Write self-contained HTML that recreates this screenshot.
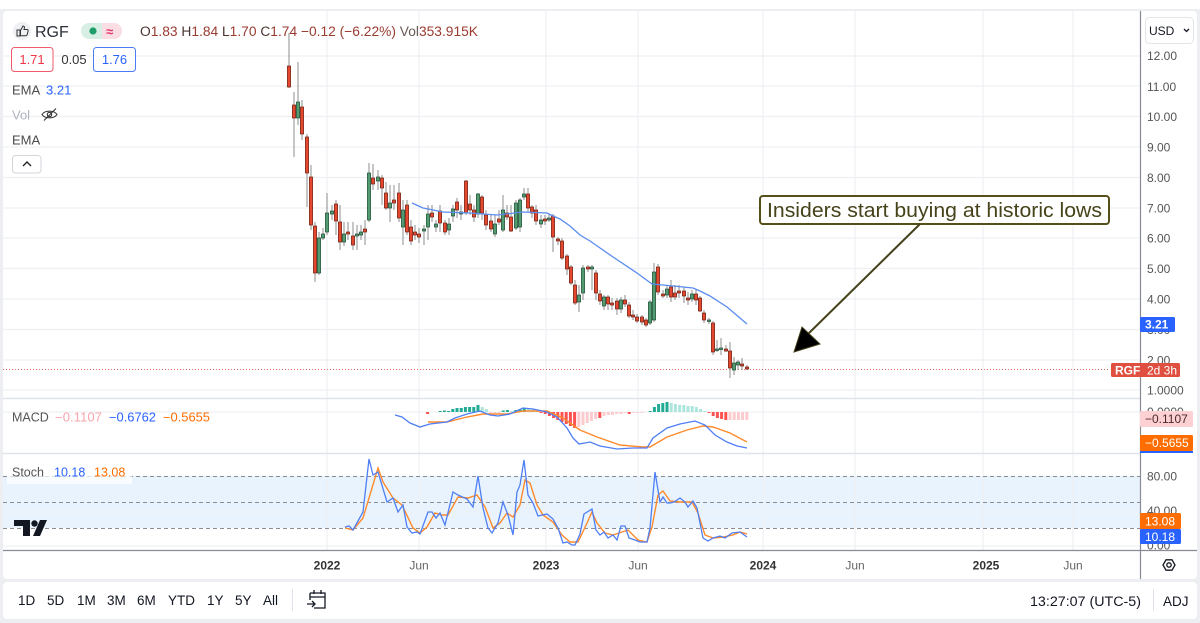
<!DOCTYPE html>
<html><head><meta charset="utf-8"><style>
html,body{margin:0;padding:0;background:#ffffff;}
svg{display:block;font-family:"Liberation Sans",sans-serif;}
</style></head><body>
<svg width="1200" height="623" viewBox="0 0 1200 623" xmlns="http://www.w3.org/2000/svg">
<rect x="0" y="0" width="1200" height="623" fill="#eceef2"/>
<rect x="0" y="0" width="1200" height="9" fill="#ffffff"/>
<rect x="3" y="11" width="1194" height="568" rx="4" fill="#ffffff"/>
<rect x="3" y="582" width="1194" height="37" rx="4" fill="#ffffff"/>

<!-- stoch band -->
<rect x="3" y="476" width="1137" height="52" fill="#e8f3fd"/>

<!-- grid -->
<g stroke="#eef0f4" stroke-width="1.2">
<path d="M3 56H1140M3 86H1140M3 116.5H1140M3 147H1140M3 177.5H1140M3 208H1140M3 238H1140M3 268.5H1140M3 299H1140M3 329.5H1140M3 360H1140M3 390H1140"/>
<path d="M3 412H1140M3 512H1140M3 546H1140"/>
<path d="M327 11V550M419 11V550M546 11V550M638 11V550M763 11V550M855 11V550M983 11V550M1073 11V550"/>
</g>
<!-- pane separators -->
<path d="M3 398.5H1140M3 453.5H1140" stroke="#e0e3eb" stroke-width="1.5"/>
<path d="M3 550.5H1197" stroke="#888b94" stroke-width="1.2"/>
<path d="M1140.5 11V579" stroke="#888b94" stroke-width="1.2"/>

<!-- stoch dashed -->
<g stroke="#8a8d95" stroke-width="1" stroke-dasharray="4 3">
<path d="M3 476.5H1140M3 502.5H1140M3 528.5H1140"/>
</g>

<!-- last price line -->
<path d="M3 369.5H1110" stroke="#e0675a" stroke-width="1" stroke-dasharray="1 2"/>

<!-- wicks -->
<path stroke="#8c8c8c" stroke-width="1" fill="none" d="
M289 33V88M294 92V157M298 62V125M302 100V140M307 134V207M311 165V230M315 222V282M319 232V275M323 228V240M327 193V235
M332 205V220M336 200V235M340 205V250M344 222V246M348 222V240M353 222V250M357 225V250M361 225V240M365 220V245M369 163V222
M373 164V190M378 170V190M382 175V205M386 182V210M390 185V222M394 185V210M399 183V222M403 200V245M407 200V235M411 220V245
M415 225V240M419 228V243M424 225V245M428 205V240M432 205V222M436 220V232M440 205V232M445 220V235M449 218V235M453 205V222
M457 198V218M461 205V220M466 180V215M470 195V215M474 205V222M478 193V218M482 195V220M486 210V230M491 215V232M495 215V237
M499 210V225M503 195V232M507 205V220M511 205V232M516 200V230M520 198V232M524 188V200M528 188V212M532 205V218M536 205V225
M541 215V228M545 215V225M549 214V222M553 214V252M558 237V245M562 238V260M567 254V275M571 265V285M575 280V305M579 285V312
M583 265V300M588 265V272M592 265V290M596 270V300M600 290V305M604 295V310M608 295V310M612 298V310M617 298V315M621 297V313
M625 295V307M629 302V318M633 310V320M637 314V323M642 315V325M646 318V327M650 300V325M654 263V322M658 264V295M663 290V298
M667 285V298M671 280V302M675 285V300M679 285V298M684 287V303M688 292V305M692 290V302M696 290V305M700 296V312M704 310V323
M709 318V324M713 321V355M717 340V352M721 338V355M726 345V352M730 342V378M734 357V375M738 360V370M742 358V370M747 365V370"/>

<!-- red bodies -->
<g fill="#e4492f" stroke="#6e2216" stroke-width="0.7">
<rect x="287.4" y="66" width="3.2" height="21"/>
<rect x="292.4" y="105" width="3.2" height="13"/>
<rect x="300.4" y="107" width="3.2" height="27"/>
<rect x="305.4" y="137" width="3.2" height="36"/>
<rect x="309.4" y="177" width="3.2" height="48"/>
<rect x="313.4" y="226" width="3.2" height="47"/>
<rect x="334.4" y="204" width="3.2" height="17"/>
<rect x="338.4" y="222" width="3.2" height="20"/>
<rect x="346.4" y="232" width="3.2" height="2"/>
<rect x="351.4" y="236" width="3.2" height="9"/>
<rect x="363.4" y="229" width="3.2" height="3"/>
<rect x="371.4" y="178" width="3.2" height="6"/>
<rect x="380.4" y="178" width="3.2" height="10"/>
<rect x="384.4" y="193" width="3.2" height="15"/>
<rect x="392.4" y="200" width="3.2" height="3"/>
<rect x="397.4" y="193" width="3.2" height="25"/>
<rect x="405.4" y="205" width="3.2" height="27"/>
<rect x="409.4" y="227" width="3.2" height="14"/>
<rect x="413.4" y="232" width="3.2" height="3"/>
<rect x="417.4" y="234" width="3.2" height="3"/>
<rect x="430.4" y="213" width="3.2" height="4"/>
<rect x="438.4" y="211" width="3.2" height="12"/>
<rect x="443.4" y="223" width="3.2" height="9"/>
<rect x="455.4" y="202" width="3.2" height="8"/>
<rect x="464.4" y="181" width="3.2" height="32"/>
<rect x="468.4" y="204" width="3.2" height="6"/>
<rect x="472.4" y="210" width="3.2" height="7"/>
<rect x="480.4" y="197" width="3.2" height="16"/>
<rect x="484.4" y="215" width="3.2" height="10"/>
<rect x="489.4" y="221" width="3.2" height="8"/>
<rect x="497.4" y="219" width="3.2" height="3"/>
<rect x="505.4" y="213" width="3.2" height="4"/>
<rect x="509.4" y="217" width="3.2" height="14"/>
<rect x="526.4" y="194" width="3.2" height="14"/>
<rect x="530.4" y="207" width="3.2" height="6"/>
<rect x="534.4" y="210" width="3.2" height="11"/>
<rect x="543.4" y="219" width="3.2" height="2"/>
<rect x="551.4" y="216" width="3.2" height="21"/>
<rect x="556.4" y="239" width="3.2" height="2"/>
<rect x="560.4" y="241" width="3.2" height="17"/>
<rect x="565.4" y="256" width="3.2" height="13"/>
<rect x="569.4" y="267" width="3.2" height="16"/>
<rect x="573.4" y="285" width="3.2" height="18"/>
<rect x="586.4" y="267" width="3.2" height="2"/>
<rect x="594.4" y="273" width="3.2" height="20"/>
<rect x="598.4" y="294" width="3.2" height="7"/>
<rect x="606.4" y="297" width="3.2" height="7"/>
<rect x="610.4" y="303" width="3.2" height="2"/>
<rect x="615.4" y="301" width="3.2" height="8"/>
<rect x="623.4" y="300" width="3.2" height="4"/>
<rect x="627.4" y="305" width="3.2" height="11"/>
<rect x="631.4" y="315" width="3.2" height="2"/>
<rect x="635.4" y="317" width="3.2" height="4"/>
<rect x="640.4" y="317" width="3.2" height="5"/>
<rect x="644.4" y="320" width="3.2" height="5"/>
<rect x="656.4" y="267" width="3.2" height="25"/>
<rect x="661.4" y="294" width="3.2" height="2"/>
<rect x="669.4" y="287" width="3.2" height="10"/>
<rect x="673.4" y="293" width="3.2" height="4"/>
<rect x="677.4" y="291" width="3.2" height="2"/>
<rect x="682.4" y="291" width="3.2" height="5"/>
<rect x="686.4" y="298" width="3.2" height="2"/>
<rect x="694.4" y="294" width="3.2" height="6"/>
<rect x="698.4" y="298" width="3.2" height="13"/>
<rect x="702.4" y="313" width="3.2" height="7"/>
<rect x="711.4" y="323" width="3.2" height="29"/>
<rect x="724.4" y="349" width="3.2" height="2"/>
<rect x="728.4" y="351" width="3.2" height="17"/>
<rect x="740.4" y="364" width="3.2" height="2"/>
<rect x="745.4" y="367" width="3.2" height="2"/>
</g>
<!-- green bodies -->
<g fill="#539c72" stroke="#234f37" stroke-width="0.7">
<rect x="296.4" y="102" width="3.2" height="16"/>
<rect x="317.4" y="238" width="3.2" height="35"/>
<rect x="321.4" y="234" width="3.2" height="4"/>
<rect x="325.4" y="213" width="3.2" height="19"/>
<rect x="330.4" y="211" width="3.2" height="3"/>
<rect x="342.4" y="234" width="3.2" height="8"/>
<rect x="355.4" y="234" width="3.2" height="2"/>
<rect x="359.4" y="232" width="3.2" height="3"/>
<rect x="367.4" y="173" width="3.2" height="47"/>
<rect x="376.4" y="177" width="3.2" height="4"/>
<rect x="388.4" y="203" width="3.2" height="5"/>
<rect x="401.4" y="210" width="3.2" height="17"/>
<rect x="422.4" y="229" width="3.2" height="2"/>
<rect x="426.4" y="214" width="3.2" height="13"/>
<rect x="434.4" y="224" width="3.2" height="3"/>
<rect x="447.4" y="224" width="3.2" height="6"/>
<rect x="451.4" y="209" width="3.2" height="7"/>
<rect x="459.4" y="212" width="3.2" height="2"/>
<rect x="476.4" y="194" width="3.2" height="20"/>
<rect x="493.4" y="224" width="3.2" height="10"/>
<rect x="501.4" y="210" width="3.2" height="20"/>
<rect x="514.4" y="203" width="3.2" height="25"/>
<rect x="518.4" y="200" width="3.2" height="27"/>
<rect x="522.4" y="194" width="3.2" height="3"/>
<rect x="539.4" y="220" width="3.2" height="4"/>
<rect x="547.4" y="218" width="3.2" height="2"/>
<rect x="577.4" y="295" width="3.2" height="7"/>
<rect x="581.4" y="268" width="3.2" height="25"/>
<rect x="590.4" y="267" width="3.2" height="2"/>
<rect x="602.4" y="297" width="3.2" height="9"/>
<rect x="619.4" y="300" width="3.2" height="9"/>
<rect x="648.4" y="302" width="3.2" height="21"/>
<rect x="652.4" y="272" width="3.2" height="48"/>
<rect x="665.4" y="289" width="3.2" height="6"/>
<rect x="690.4" y="294" width="3.2" height="5"/>
<rect x="707.4" y="320" width="3.2" height="1.5"/>
<rect x="715.4" y="349" width="3.2" height="1.5"/>
<rect x="719.4" y="348" width="3.2" height="1.5"/>
<rect x="732.4" y="363" width="3.2" height="7"/>
<rect x="736.4" y="362" width="3.2" height="3"/>
</g>

<!-- EMA -->
<polyline fill="none" stroke="#5b8cf0" stroke-width="1.3" points="412,203 423,208 443,212 470,213 497,215 523,212 547,213 553,216 560,219 570,226 580,235 590,241 613,257 637,273 652,284 663,285 693,288 700,291 710,296 727,307 747,324"/>

<!-- annotation -->
<rect x="760" y="196" width="349" height="28" rx="3" fill="#ffffff" stroke="#55501a" stroke-width="2"/>
<text x="934.5" y="217" text-anchor="middle" font-size="20" fill="#46421a" textLength="335" lengthAdjust="spacingAndGlyphs">Insiders start buying at historic lows</text>
<path d="M920 224L806 336" stroke="#45411a" stroke-width="2"/>
<path d="M794 352L802 327L820 344Z" fill="#000" stroke="#45411a" stroke-width="1"/>

<!-- MACD histogram -->
<g stroke="none">
<rect x="426.1" y="412" width="3" height="2" fill="#ff5252"/>
<rect x="438.7" y="411" width="3" height="1" fill="#22ab94"/>
<rect x="442.9" y="410.5" width="3" height="1.5" fill="#22ab94"/>
<rect x="447.1" y="411" width="3" height="1" fill="#22ab94"/>
<rect x="451.3" y="409" width="3" height="3" fill="#22ab94"/>
<rect x="455.5" y="408" width="3" height="4" fill="#22ab94"/>
<rect x="459.7" y="408" width="3" height="4" fill="#22ab94"/>
<rect x="463.9" y="407" width="3" height="5" fill="#22ab94"/>
<rect x="468.1" y="407" width="3" height="5" fill="#22ab94"/>
<rect x="472.3" y="407" width="3" height="5" fill="#22ab94"/>
<rect x="476.5" y="405" width="3" height="7" fill="#22ab94"/>
<rect x="480.7" y="407" width="3" height="5" fill="#ace5dc"/>
<rect x="484.9" y="409" width="3" height="3" fill="#ace5dc"/>
<rect x="489.1" y="412" width="3" height="1" fill="#fccbcd"/>
<rect x="493.3" y="412" width="3" height="1" fill="#fccbcd"/>
<rect x="497.5" y="412" width="3" height="1" fill="#fccbcd"/>
<rect x="501.7" y="410.5" width="3" height="1.5" fill="#22ab94"/>
<rect x="505.9" y="410" width="3" height="2" fill="#22ab94"/>
<rect x="510.1" y="411" width="3" height="1" fill="#ace5dc"/>
<rect x="514.3" y="410" width="3" height="2" fill="#22ab94"/>
<rect x="518.5" y="409" width="3" height="3" fill="#22ab94"/>
<rect x="522.7" y="408" width="3" height="4" fill="#22ab94"/>
<rect x="526.9" y="408" width="3" height="4" fill="#ace5dc"/>
<rect x="531.1" y="409" width="3" height="3" fill="#ace5dc"/>
<rect x="535.3" y="410" width="3" height="2" fill="#ace5dc"/>
<rect x="539.5" y="412" width="3" height="1" fill="#ff5252"/>
<rect x="543.7" y="412" width="3" height="2" fill="#ff5252"/>
<rect x="547.9" y="412" width="3" height="4" fill="#ff5252"/>
<rect x="552.1" y="412" width="3" height="6" fill="#ff5252"/>
<rect x="556.3" y="412" width="3" height="8" fill="#ff5252"/>
<rect x="560.5" y="412" width="3" height="10" fill="#ff5252"/>
<rect x="564.7" y="412" width="3" height="12" fill="#ff5252"/>
<rect x="568.9" y="412" width="3" height="14" fill="#ff5252"/>
<rect x="573.1" y="412" width="3" height="16" fill="#ff5252"/>
<rect x="577.3" y="412" width="3" height="15" fill="#fccbcd"/>
<rect x="581.5" y="412" width="3" height="13" fill="#fccbcd"/>
<rect x="585.7" y="412" width="3" height="11" fill="#fccbcd"/>
<rect x="589.9" y="412" width="3" height="9" fill="#fccbcd"/>
<rect x="594.1" y="412" width="3" height="7" fill="#fccbcd"/>
<rect x="598.3" y="412" width="3" height="6" fill="#ff5252"/>
<rect x="602.5" y="412" width="3" height="4" fill="#fccbcd"/>
<rect x="606.7" y="412" width="3" height="3" fill="#fccbcd"/>
<rect x="610.9" y="412" width="3" height="3" fill="#fccbcd"/>
<rect x="615.1" y="412" width="3" height="2" fill="#fccbcd"/>
<rect x="619.3" y="412" width="3" height="2" fill="#fccbcd"/>
<rect x="623.5" y="412" width="3" height="1" fill="#fccbcd"/>
<rect x="627.7" y="412" width="3" height="2" fill="#ff5252"/>
<rect x="631.9" y="412" width="3" height="1" fill="#fccbcd"/>
<rect x="636.1" y="412" width="3" height="1" fill="#fccbcd"/>
<rect x="640.3" y="412" width="3" height="1" fill="#fccbcd"/>
<rect x="648.7" y="411" width="3" height="1" fill="#22ab94"/>
<rect x="652.9" y="407" width="3" height="5" fill="#22ab94"/>
<rect x="657.1" y="404" width="3" height="8" fill="#22ab94"/>
<rect x="661.3" y="403" width="3" height="9" fill="#22ab94"/>
<rect x="665.5" y="402" width="3" height="10" fill="#22ab94"/>
<rect x="669.7" y="403" width="3" height="9" fill="#ace5dc"/>
<rect x="673.9" y="404" width="3" height="8" fill="#ace5dc"/>
<rect x="678.1" y="405" width="3" height="7" fill="#ace5dc"/>
<rect x="682.3" y="405" width="3" height="7" fill="#ace5dc"/>
<rect x="686.5" y="406" width="3" height="6" fill="#ace5dc"/>
<rect x="690.7" y="406" width="3" height="6" fill="#ace5dc"/>
<rect x="694.9" y="407" width="3" height="5" fill="#ace5dc"/>
<rect x="699.1" y="409" width="3" height="3" fill="#ace5dc"/>
<rect x="703.3" y="411" width="3" height="1" fill="#ace5dc"/>
<rect x="707.5" y="412" width="3" height="1" fill="#ff5252"/>
<rect x="711.7" y="412" width="3" height="4" fill="#ff5252"/>
<rect x="715.9" y="412" width="3" height="6" fill="#ff5252"/>
<rect x="720.1" y="412" width="3" height="7" fill="#ff5252"/>
<rect x="724.3" y="412" width="3" height="8" fill="#ff5252"/>
<rect x="728.5" y="412" width="3" height="8" fill="#fccbcd"/>
<rect x="732.7" y="412" width="3" height="8" fill="#fccbcd"/>
<rect x="736.9" y="412" width="3" height="8" fill="#fccbcd"/>
<rect x="741.1" y="412" width="3" height="8" fill="#fccbcd"/>
<rect x="745.3" y="412" width="3" height="8" fill="#fccbcd"/>
</g>
<!-- MACD lines -->
<polyline fill="none" stroke="#ff8a2b" stroke-width="1.4" points="428,422 447,422 467,417 483,414 507,414 523,411 547,411 563,418 580,430 597,437 620,445 643,447 650,447 667,437 687,430 703,426 713,427 730,433 747,442"/>
<polyline fill="none" stroke="#4f7ff5" stroke-width="1.3" points="395,415 402,417 410,423 420,427 430,424 447,422 455,418 467,414 480,411 490,415 498,416 510,414 523,408 533,409 547,412 557,417 567,428 573,438 579,444 590,442 600,446 617,449 633,448 647,448 653,438 667,428 680,424 695,421 705,425 715,435 727,442 737,446 747,448"/>

<!-- Stoch lines -->
<polyline fill="none" stroke="#ff8a2b" stroke-width="1.4" points="345,528 353,530 363,518 378,468 383,482 393,498 402,505 413,528 420,533 427,527 435,513 442,515 448,515 458,497 468,498 477,495 485,507 493,528 500,523 507,513 513,517 520,505 525,480 530,483 537,505 543,515 553,522 562,535 570,542 578,542 587,523 592,512 597,523 605,533 613,535 622,532 628,530 638,540 647,542 652,527 658,495 663,491 670,501 680,502 692,502 698,513 705,535 713,538 723,537 733,535 740,532 747,534"/>
<polyline fill="none" stroke="#4f7ff5" stroke-width="1.3" points="345,527 349,526 353,530 363,512 369,459 373,475 378,472 387,502 393,498 398,512 403,505 407,527 412,533 417,532 420,534 428,512 432,512 436,518 440,513 445,525 453,492 458,495 467,499 473,507 478,476 483,508 488,528 492,533 498,523 503,502 508,515 513,535 517,492 520,485 524,460 528,495 533,503 538,516 547,514 553,519 558,528 563,543 567,542 572,545 575,545 580,534 584,514 592,509 596,530 600,535 604,532 608,538 613,535 617,540 621,526 625,526 629,538 635,540 640,542 647,542 650,528 655,472 660,502 663,497 667,503 670,503 674,502 680,498 685,502 688,507 693,501 697,508 703,538 708,541 713,538 720,536 725,538 732,533 740,532 747,537"/>

<!-- Top legend -->
<circle cx="22" cy="31" r="9" fill="#eef0f4"/>
<path d="M17 30h3v6h-3zM20.5 30.5l2.5-4.5c1.2 0 1.6 .8 1.4 2l-.4 1.5h3c.9 0 1.3.7 1.1 1.5l-1 3.8c-.2.6-.6.9-1.2.9h-5.4z" fill="none" stroke="#333" stroke-width="1"/>
<text x="35" y="37" font-size="16" fill="#2a2e39">RGF</text>
<rect x="81" y="23" width="41" height="16" rx="8" fill="#d7efe4"/>
<path d="M102 23h12a8 8 0 0 1 0 16h-12z" fill="#fbdde4"/>
<circle cx="93" cy="31" r="3.6" fill="#1f9e6a"/>
<text x="106" y="36" font-size="13" fill="#e0356a" font-weight="bold">≈</text>
<text x="140" y="36" font-size="13.5" fill="#9a3b30" textLength="338" lengthAdjust="spacingAndGlyphs"><tspan fill="#4a3431">O</tspan>1.83 <tspan fill="#4a3431">H</tspan>1.84 <tspan fill="#4a3431">L</tspan>1.70 <tspan fill="#4a3431">C</tspan>1.74 −0.12 (−6.22%) <tspan fill="#6a5a58">Vol</tspan>353.915K</text>

<rect x="11.5" y="47.5" width="41.5" height="24" rx="3" fill="#fff" stroke="#f05a6a" stroke-width="1"/>
<text x="32" y="64" font-size="13" fill="#f23645" text-anchor="middle">1.71</text>
<text x="74" y="64" font-size="13" fill="#333" text-anchor="middle">0.05</text>
<rect x="93.5" y="47.5" width="42" height="24" rx="3" fill="#fff" stroke="#4b7bf5" stroke-width="1"/>
<text x="114.5" y="64" font-size="13" fill="#2962ff" text-anchor="middle">1.76</text>

<text x="12" y="94.5" font-size="13" fill="#4a4a4a">EMA</text>
<text x="46" y="94.5" font-size="13" fill="#2962ff">3.21</text>
<text x="12" y="119.5" font-size="13" fill="#b2b5be">Vol</text>
<g fill="none" stroke="#333" stroke-width="1.1">
<path d="M42 114.5c3-4.5 12-4.5 15 0c-3 4.5-12 4.5-15 0z"/>
<circle cx="49.5" cy="114.5" r="2.2"/>
<path d="M44 120.5L56 108.5"/>
</g>
<text x="12" y="144.5" font-size="13" fill="#4a4a4a">EMA</text>
<rect x="12.5" y="155.5" width="28.5" height="17.5" rx="3" fill="#fff" stroke="#d4d6dc" stroke-width="1"/>
<path d="M23 166l4-4 4 4" fill="none" stroke="#222" stroke-width="1.4"/>

<!-- MACD legend -->
<text x="12" y="421.5" font-size="12.5" fill="#555">MACD</text>
<text x="55" y="421.5" font-size="12.5" fill="#f7a6ac" textLength="47" lengthAdjust="spacingAndGlyphs">−0.1107</text>
<text x="109" y="421.5" font-size="12.5" fill="#2962ff" textLength="47" lengthAdjust="spacingAndGlyphs">−0.6762</text>
<text x="163" y="421.5" font-size="12.5" fill="#ff6d00" textLength="47" lengthAdjust="spacingAndGlyphs">−0.5655</text>

<!-- Stoch legend -->
<rect x="7" y="463" width="125" height="21" fill="#ffffff" opacity="0.7"/>
<text x="12" y="476.5" font-size="12.5" fill="#555">Stoch</text>
<text x="54" y="476.5" font-size="12.5" fill="#2962ff">10.18</text>
<text x="94" y="476.5" font-size="12.5" fill="#ff6d00">13.08</text>

<!-- TV logo -->
<g fill="#131722">
<path d="M14 520H30V536H23V526H14Z"/>
<circle cx="34.5" cy="523.5" r="3.2"/>
<path d="M40 520H47L40 536H33Z"/>
</g>

<!-- price axis -->
<rect x="1145.5" y="17.5" width="48" height="26" rx="4" fill="#fff" stroke="#e3e5ea" stroke-width="1"/>
<text x="1149" y="35" font-size="12" fill="#131722">USD</text>
<path d="M1184 29l2.5 2.5 2.5-2.5" fill="none" stroke="#131722" stroke-width="1.3"/>
<g font-size="12" fill="#555">
<text x="1147" y="60">12.00</text>
<text x="1147" y="91">11.00</text>
<text x="1147" y="121">10.00</text>
<text x="1147" y="151.5">9.00</text>
<text x="1147" y="182">8.00</text>
<text x="1147" y="212.5">7.00</text>
<text x="1147" y="242.5">6.00</text>
<text x="1147" y="273">5.00</text>
<text x="1147" y="303.5">4.00</text>
<text x="1147" y="334">3.00</text>
<text x="1147" y="364.5">2.00</text>
<text x="1147" y="394.5">1.0000</text>
<text x="1147" y="416">0.0000</text>
<text x="1147" y="480.5">80.00</text>
<text x="1147" y="515">40.00</text>
<text x="1147" y="549.5">0.00</text>
</g>
<rect x="1140" y="317" width="35" height="15" rx="1.5" fill="#2962ff"/>
<text x="1145" y="328.5" font-size="12" fill="#fff" font-weight="bold">3.21</text>
<rect x="1111" y="363" width="69" height="14" rx="1.5" fill="#df5040"/>
<text x="1115" y="374.5" font-size="12" fill="#fff" font-weight="bold">RGF</text>
<text x="1147" y="374.5" font-size="12" fill="#fff">2d 3h</text>

<rect x="1140" y="411" width="53" height="16" rx="1.5" fill="#fdd0d4"/>
<text x="1145" y="423" font-size="12" fill="#4a2a2a">−0.1107</text>
<rect x="1140" y="435" width="53" height="16" rx="1.5" fill="#ff6d00"/>
<text x="1145" y="447" font-size="12" fill="#fff">−0.5655</text>
<rect x="1140" y="451" width="53" height="2" fill="#2962ff"/>

<rect x="1140" y="513" width="41" height="16" rx="1.5" fill="#ff6d00"/>
<text x="1145" y="525.5" font-size="12" fill="#fff">13.08</text>
<rect x="1140" y="529" width="41" height="15" rx="1.5" fill="#2962ff"/>
<text x="1145" y="541" font-size="12" fill="#fff">10.18</text>

<!-- time axis -->
<g font-size="12" text-anchor="middle">
<text x="327" y="569.5" fill="#333" font-weight="bold">2022</text>
<text x="419" y="569.5" fill="#666">Jun</text>
<text x="546" y="569.5" fill="#333" font-weight="bold">2023</text>
<text x="638" y="569.5" fill="#666">Jun</text>
<text x="763" y="569.5" fill="#333" font-weight="bold">2024</text>
<text x="855" y="569.5" fill="#666">Jun</text>
<text x="986" y="569.5" fill="#333" font-weight="bold">2025</text>
<text x="1073" y="569.5" fill="#666">Jun</text>
</g>
<!-- gear -->
<path d="M1163 565l3-5.2h6l3 5.2-3 5.2h-6z" fill="none" stroke="#131722" stroke-width="1.3"/>
<circle cx="1169" cy="565" r="2.2" fill="none" stroke="#131722" stroke-width="1.3"/>

<!-- bottom toolbar -->
<g font-size="13.5" fill="#131722">
<text x="18" y="605">1D</text>
<text x="47" y="605">5D</text>
<text x="77" y="605">1M</text>
<text x="107" y="605">3M</text>
<text x="137" y="605">6M</text>
<text x="168" y="605">YTD</text>
<text x="207" y="605">1Y</text>
<text x="235" y="605">5Y</text>
<text x="263" y="605">All</text>
<text x="1030" y="606" textLength="111" lengthAdjust="spacingAndGlyphs">13:27:07 (UTC-5)</text>
<text x="1163" y="606">ADJ</text>
</g>
<path d="M292.5 589V611M1153.5 589V611" stroke="#e0e3eb" stroke-width="1"/>
<g fill="none" stroke="#131722" stroke-width="1.3">
<path d="M310 593h15v15h-11M310 593v7M310 597h15M314 590v4M321 590v4"/>
<path d="M307 604h8M312 601l3 3-3 3"/>
</g>
</svg>
</body></html>
